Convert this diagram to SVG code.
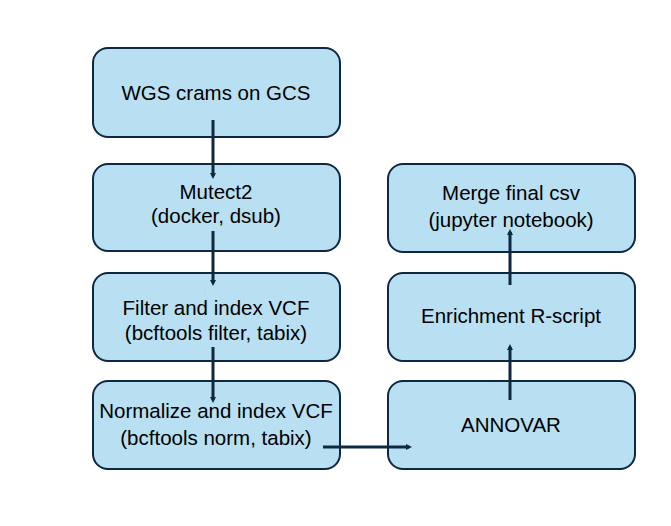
<svg xmlns="http://www.w3.org/2000/svg" width="671" height="526" viewBox="0 0 671 526">
<style>
.box{fill:#b9dff2;stroke:#0e2841;stroke-width:2}
.t{font-family:"Liberation Sans",Arial,sans-serif;font-size:20.5px;fill:#000;text-anchor:middle}
.c{stroke:#0e2841;stroke-width:3;fill:none;marker-end:url(#ah)}
</style>
<defs>
<marker id="ah" markerWidth="6" markerHeight="6" refX="3" refY="3" orient="auto" markerUnits="userSpaceOnUse">
<path d="M0,0 L6,3 L0,6 Z" fill="#0e2841"/>
</marker>
</defs>
<rect width="671" height="526" fill="#fff"/>
<g id="n1"><rect class="box" x="93" y="48" width="247" height="89" rx="15"/><text class="t" x="216" y="100">WGS crams on GCS</text></g>
<g id="n2"><rect class="box" x="93" y="164" width="247" height="87" rx="15"/><text class="t" x="216" y="199">Mutect2</text><text class="t" x="216" y="223">(docker, dsub)</text></g>
<g id="n3"><rect class="box" x="93" y="273" width="247" height="88" rx="15"/><text class="t" x="216" y="315">Filter and index VCF</text><text class="t" x="216" y="340">(bcftools filter, tabix)</text></g>
<g id="n4"><rect class="box" x="93" y="381" width="247" height="88" rx="15"/><text class="t" x="216" y="418">Normalize and index VCF</text><text class="t" x="216" y="445">(bcftools norm, tabix)</text></g>
<g id="n5"><rect class="box" x="388" y="164" width="247" height="88" rx="15"/><text class="t" x="511" y="200">Merge final csv</text><text class="t" x="511" y="227">(jupyter notebook)</text></g>
<g id="n6"><rect class="box" x="388" y="273" width="247" height="88" rx="15"/><text class="t" x="511" y="323">Enrichment R-script</text></g>
<g id="n7"><rect class="box" x="388" y="381" width="247" height="88" rx="15"/><text class="t" x="511" y="432">ANNOVAR</text></g>
<g id="connectors">
<line class="c" x1="213" y1="120" x2="213" y2="176"/>
<line class="c" x1="213" y1="231" x2="213" y2="283"/>
<line class="c" x1="213" y1="347" x2="213" y2="400"/>
<line class="c" x1="323" y1="447" x2="409" y2="447"/>
<line class="c" x1="510" y1="400" x2="510" y2="347"/>
<line class="c" x1="510" y1="285" x2="510" y2="232"/>
</g>
</svg>
